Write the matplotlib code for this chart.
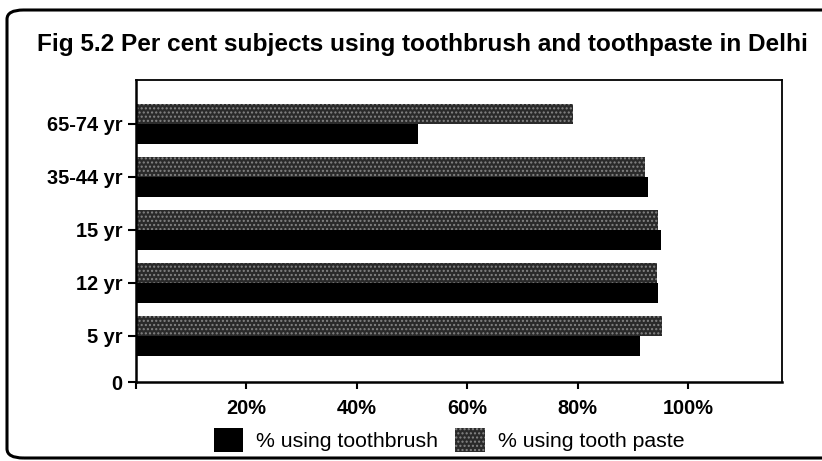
import numpy as np
import matplotlib.pyplot as plt
from matplotlib.patches import FancyBboxPatch

plt.rcParams['font.family'] = ['Liberation Sans', 'DejaVu Sans']
plt.rcParams['hatch.linewidth'] = 1.0

# ---- data (per cent of subjects) ----
age_groups = ["5 yr", "12 yr", "15 yr", "35-44 yr", "65-74 yr"]
toothbrush = [91.2, 94.5, 95.0, 92.7, 51.0]
toothpaste = [95.2, 94.3, 94.5, 92.1, 79.2]
x_ticks = [0, 20, 40, 60, 80, 100]
x_tick_labels = ["", "20%", "40%", "60%", "80%", "100%"]

fig = plt.figure(figsize=(8.22, 4.61), dpi=100)

# rounded outer frame, runs off the right edge
frame = FancyBboxPatch((7 / 822, 3 / 461), 1.2, 448 / 461,
                       boxstyle="round,pad=0,rounding_size=0.02",
                       transform=fig.transFigure, fill=False,
                       edgecolor="black", linewidth=2.2, clip_on=False)
fig.patches.append(frame)

fig.text(37 / 822, 1 - 44 / 461,
         "Fig 5.2 Per cent subjects using toothbrush and toothpaste in Delhi",
         fontsize=17.6, fontweight="bold", ha="left", va="center")

ax = fig.add_axes([136 / 822, 1 - 382 / 461, (782 - 136) / 822, (382 - 80) / 461])

y = np.arange(len(age_groups))
h = 0.38

ax.barh(y - h / 2, toothbrush, height=h, color="black", linewidth=0,
        label="% using toothbrush")
ax.barh(y + h / 2, toothpaste, height=h, color="#2a2a2a", edgecolor="#858585",
        hatch="....", linewidth=0, label="% using tooth paste")

ax.set_xlim(0, 117)
ax.set_ylim(-0.87, 4.83)

ax.set_xticks(x_ticks)
ax.set_xticklabels(x_tick_labels, fontsize=14.4, fontweight="bold")
ax.set_yticks([-0.87] + list(y))
ax.set_yticklabels(["0"] + age_groups, fontsize=14.4, fontweight="bold")
ax.tick_params(axis="x", length=5, width=1.5, pad=7)
ax.tick_params(axis="y", length=6, width=1.5, pad=4)

for side in ["top", "right"]:
    ax.spines[side].set_linewidth(1.3)
for side in ["left", "bottom"]:
    ax.spines[side].set_linewidth(1.8)

fig.legend(loc="center", bbox_to_anchor=(449 / 822, 1 - 440 / 461), ncol=2,
           frameon=False, fontsize=15.3, handlelength=1.4, handleheight=1.4,
           handletextpad=0.6, columnspacing=0.8, borderaxespad=0)

fig.savefig("out.png", dpi=100)
